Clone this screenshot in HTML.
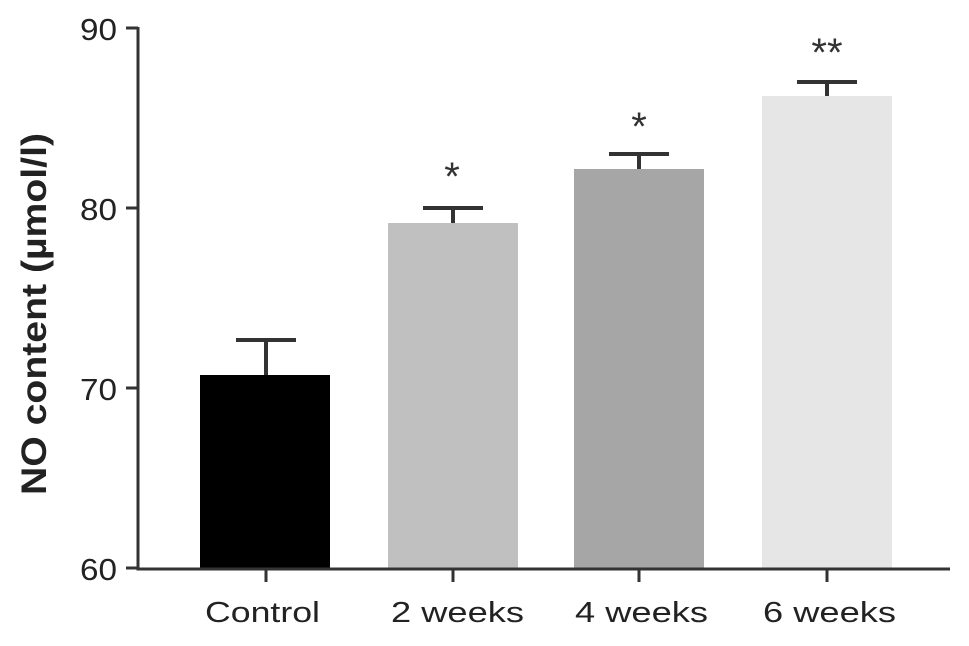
<!DOCTYPE html>
<html><head><style>body{margin:0;background:#fff}</style></head><body>
<svg width="969" height="641" xmlns="http://www.w3.org/2000/svg" font-family="Liberation Sans, sans-serif">
<rect width="969" height="641" fill="#fff"/>
<rect x="200" y="375" width="130" height="193" fill="#000"/>
<rect x="388" y="223" width="130" height="345" fill="#c0c0c0"/>
<rect x="574" y="169" width="130" height="399" fill="#a6a6a6"/>
<rect x="762" y="96" width="130" height="472" fill="#e6e6e6"/>
<g stroke="#333" stroke-width="4" fill="none">
<path d="M266 375V340M236 340H296"/>
<path d="M453 223V208M423 208H483"/>
<path d="M639 169V154M609 154H669"/>
<path d="M827 96V82M797 82H857"/>
</g>
<g stroke="#333" stroke-width="3" fill="none">
<path d="M138 27V569H950"/>
<path d="M126 28H138M126 208H138M126 388H138M126 568H138"/>
<path d="M266 568V582M453 568V582M639 568V582M827 568V582"/>
</g>
<g font-size="31" fill="#222">
<text x="80" y="40" textLength="37" lengthAdjust="spacingAndGlyphs">90</text>
<text x="80" y="220" textLength="37" lengthAdjust="spacingAndGlyphs">80</text>
<text x="80" y="400" textLength="37" lengthAdjust="spacingAndGlyphs">70</text>
<text x="80" y="580" textLength="37" lengthAdjust="spacingAndGlyphs">60</text>
</g>
<g font-size="29" fill="#222">
<text x="205" y="622" textLength="115" lengthAdjust="spacingAndGlyphs">Control</text>
<text x="391" y="622" textLength="133" lengthAdjust="spacingAndGlyphs">2 weeks</text>
<text x="575" y="622" textLength="133" lengthAdjust="spacingAndGlyphs">4 weeks</text>
<text x="763" y="622" textLength="133" lengthAdjust="spacingAndGlyphs">6 weeks</text>
</g>
<g font-size="40" fill="#333" text-anchor="middle">
<text x="452" y="190">*</text>
<text x="639" y="140">*</text>
<text x="827" y="66">**</text>
</g>
<text transform="translate(46 495) rotate(-90)" font-size="35" font-weight="bold" fill="#222" textLength="362" lengthAdjust="spacingAndGlyphs">NO content (µmol/l)</text>
</svg>
</body></html>
